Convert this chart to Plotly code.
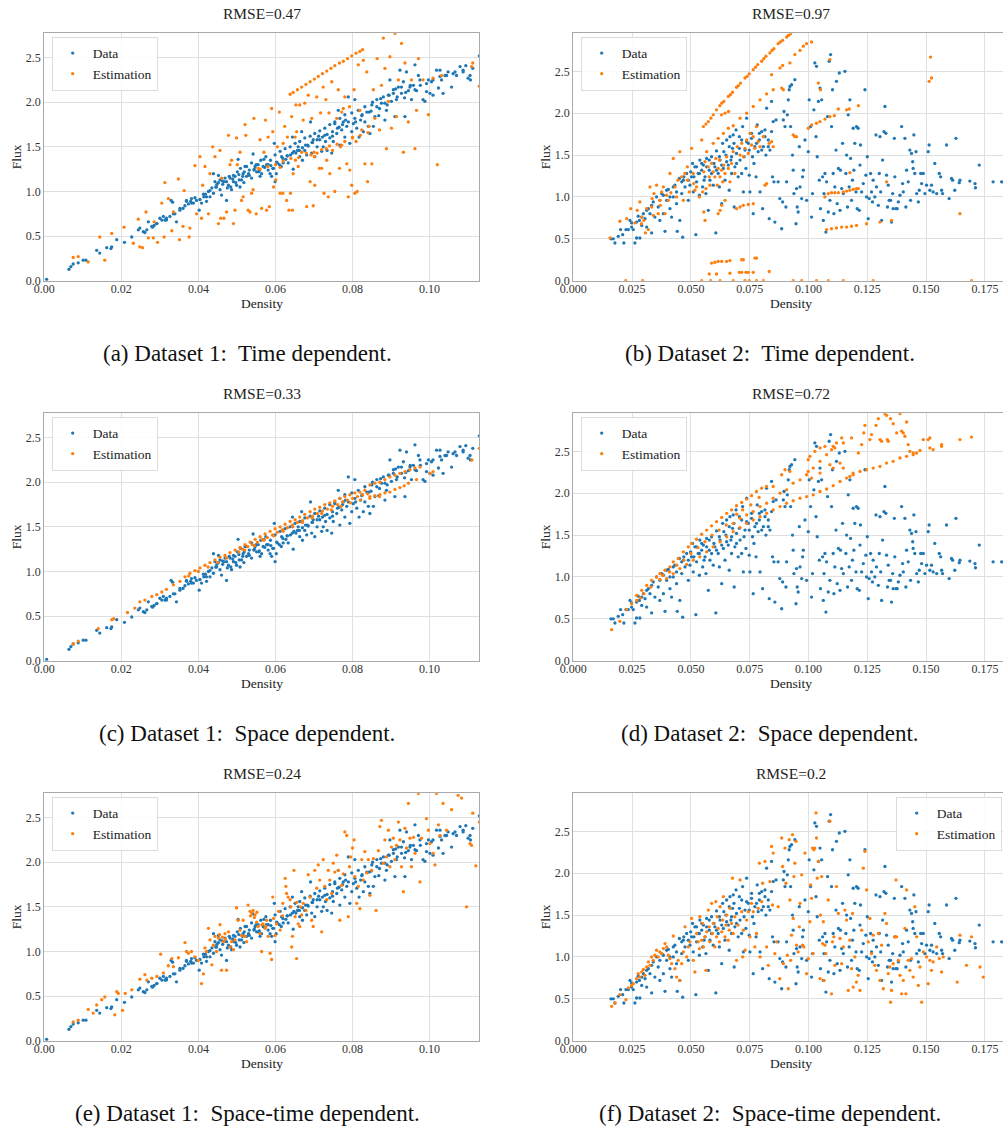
import plotly.graph_objects as go

# ---------------- values ----------------
# Dataset 1 measured (density, flux) pairs, shared by panels (a), (c), (e)
d1_data = [
    (0.0006, 0.015), (0.0064, 0.127), (0.0069, 0.157), (0.0075, 0.187), (0.0088, 0.2), (0.0101, 0.23),
    (0.0108, 0.23), (0.0136, 0.34), (0.0144, 0.31), (0.0162, 0.37), (0.0173, 0.36), (0.0175, 0.38),
    (0.0188, 0.46), (0.0208, 0.43), (0.0227, 0.49), (0.0244, 0.57), (0.0248, 0.59), (0.0257, 0.55),
    (0.0261, 0.54), (0.027, 0.66), (0.0281, 0.6), (0.0285, 0.62), (0.0292, 0.64), (0.030, 0.7),
    (0.0305, 0.68), (0.0309, 0.72), (0.0313, 0.68), (0.0317, 0.7), (0.0329, 0.9), (0.0333, 0.88),
    (0.0335, 0.75), (0.0343, 0.66), (0.0352, 0.79), (0.036, 0.81), (0.0365, 0.84), (0.0369, 0.9),
    (0.0374, 0.86), (0.038, 0.89), (0.0382, 0.92), (0.0387, 0.87), (0.0395, 0.9), (0.0402, 0.79),
    (0.0408, 0.87), (0.0414, 0.94), (0.0418, 0.97), (0.0421, 0.89), (0.0426, 1.0), (0.043, 0.94),
    (0.0435, 1.04), (0.0439, 1.2), (0.0443, 1.11), (0.0447, 1.05), (0.0448, 1.08), (0.0452, 1.18),
    (0.0456, 1.02), (0.046, 0.96), (0.0462, 1.12), (0.0466, 1.11), (0.0473, 0.9), (0.0475, 1.04),
    (0.0478, 1.07), (0.0482, 1.15), (0.0486, 1.02), (0.0489, 1.14), (0.0491, 1.11), (0.0495, 1.17),
    (0.0499, 1.07), (0.0503, 1.36), (0.0505, 1.19), (0.0508, 1.05), (0.0512, 1.13), (0.0516, 1.2),
    (0.0518, 1.1), (0.0521, 1.28), (0.0525, 1.17), (0.053, 1.2), (0.0532, 1.24), (0.0538, 1.15),
    (0.0542, 1.42), (0.0545, 1.25), (0.0547, 1.28), (0.0551, 1.22), (0.0555, 1.3), (0.0558, 1.23),
    (0.056, 1.17), (0.0564, 1.2), (0.057, 1.36), (0.0572, 1.27), (0.0577, 1.3), (0.0581, 1.24),
    (0.0586, 1.2), (0.0588, 1.29), (0.059, 1.17), (0.0595, 1.26), (0.0597, 1.54), (0.0599, 1.11),
    (0.0602, 1.2), (0.0603, 1.33), (0.061, 1.3), (0.0615, 1.28), (0.0616, 1.39), (0.062, 1.32),
    (0.0627, 1.36), (0.063, 1.4), (0.0633, 1.32), (0.0639, 1.41), (0.0644, 1.61), (0.0646, 1.25),
    (0.0648, 1.45), (0.0653, 1.43), (0.0659, 1.5), (0.0662, 1.46), (0.0663, 1.39), (0.0668, 1.67),
    (0.067, 1.35), (0.0676, 1.46), (0.0678, 1.52), (0.0681, 1.41), (0.0685, 1.51), (0.0691, 1.78),
    (0.0694, 1.43), (0.0695, 1.55), (0.0698, 1.58), (0.0702, 1.39), (0.0708, 1.5), (0.0712, 1.62),
    (0.0715, 1.58), (0.072, 1.45), (0.0724, 1.5), (0.0728, 1.63), (0.073, 1.56), (0.0734, 1.46),
    (0.0741, 1.6), (0.0746, 1.43), (0.0748, 1.62), (0.075, 1.56), (0.0754, 1.76), (0.0759, 1.65),
    (0.0763, 1.91), (0.0765, 1.72), (0.0767, 1.52), (0.0772, 1.69), (0.0776, 1.78), (0.078, 1.61),
    (0.0782, 1.8), (0.0785, 1.73), (0.0789, 2.06), (0.0793, 1.54), (0.0798, 1.67), (0.0802, 1.76),
    (0.0806, 2.03), (0.0808, 1.78), (0.0811, 1.71), (0.0817, 1.61), (0.0821, 1.8), (0.0825, 1.86),
    (0.0828, 1.67), (0.0832, 1.78), (0.0837, 1.89), (0.0841, 1.73), (0.0845, 1.65), (0.0848, 1.9),
    (0.085, 1.97), (0.0854, 1.73), (0.0858, 1.84), (0.0863, 2.03), (0.0868, 1.85), (0.087, 1.93),
    (0.0875, 1.99), (0.088, 2.06), (0.0884, 1.8), (0.0888, 1.91), (0.089, 1.97), (0.0893, 2.08),
    (0.0897, 2.25), (0.0901, 2.01), (0.0906, 2.1), (0.091, 1.84), (0.0912, 2.15), (0.0914, 2.03),
    (0.0919, 2.17), (0.0923, 2.36), (0.0927, 2.1), (0.0932, 2.23), (0.0935, 2.05), (0.0936, 1.84),
    (0.094, 2.34), (0.0945, 2.13), (0.0949, 2.17), (0.0953, 2.03), (0.0958, 2.19), (0.0962, 2.42),
    (0.0966, 2.13), (0.0971, 2.3), (0.0975, 2.25), (0.0983, 2.03), (0.0988, 2.01), (0.0992, 2.12),
    (0.0997, 2.25), (0.1001, 2.1), (0.1005, 2.23), (0.1009, 2.08), (0.1018, 2.36), (0.1023, 2.16),
    (0.1027, 2.36), (0.1031, 2.25), (0.1035, 2.1), (0.104, 2.3), (0.1048, 2.34), (0.1057, 2.17),
    (0.1061, 2.32), (0.107, 2.3), (0.1079, 2.4), (0.1087, 2.34), (0.1094, 2.41), (0.11, 2.27),
    (0.1106, 2.25), (0.1112, 2.38), (0.1129, 2.52),
    # dense core of the band
    (0.0452, 1.1), (0.0456, 1.13), (0.0463, 1.08), (0.0469, 1.15), (0.0473, 1.11), (0.048, 1.17),
    (0.0484, 1.05), (0.0491, 1.18), (0.0497, 1.1), (0.0501, 1.22), (0.0506, 1.13), (0.0509, 1.26),
    (0.0515, 1.17), (0.0519, 1.22), (0.0525, 1.28), (0.0532, 1.18), (0.0538, 1.32), (0.0544, 1.24),
    (0.055, 1.3), (0.0556, 1.22), (0.0562, 1.35), (0.0568, 1.28), (0.0575, 1.39), (0.0581, 1.3),
    (0.0587, 1.35), (0.0593, 1.26), (0.0599, 1.41), (0.0605, 1.32), (0.0612, 1.45), (0.0619, 1.37),
    (0.0625, 1.48), (0.0631, 1.4), (0.0638, 1.5), (0.0644, 1.43), (0.0651, 1.54), (0.0657, 1.46),
    (0.0663, 1.56), (0.067, 1.49), (0.0676, 1.6), (0.0683, 1.52), (0.069, 1.62), (0.0696, 1.55),
    (0.0702, 1.65), (0.0708, 1.58), (0.0715, 1.68), (0.0722, 1.61), (0.0728, 1.71), (0.0734, 1.64),
    (0.0741, 1.75), (0.0748, 1.67), (0.0754, 1.78), (0.0761, 1.71), (0.0767, 1.82), (0.0774, 1.75),
    (0.078, 1.86), (0.0789, 1.78), (0.0798, 1.88), (0.0806, 1.82), (0.0815, 1.91), (0.0824, 1.85),
    (0.0832, 1.95), (0.0843, 1.89), (0.0852, 2.0), (0.0863, 1.95), (0.0873, 2.04), (0.0884, 1.99),
    (0.0895, 2.08), (0.0906, 2.14), (0.0916, 2.06), (0.0927, 2.17), (0.0938, 2.11), (0.095, 2.19),
    (0.0962, 2.14), (0.0976, 2.19), (0.0992, 2.21), (0.1009, 2.25), (0.1027, 2.29), (0.1044, 2.3),
    (0.1066, 2.34), (0.1087, 2.36), (0.1105, 2.3),
    (0.0369, 0.89), (0.0382, 0.87), (0.0391, 0.93), (0.0404, 0.91), (0.0413, 0.97), (0.0421, 0.94),
    (0.043, 1.01), (0.0439, 0.98), (0.0445, 1.05), (0.0317, 0.68), (0.0326, 0.72), (0.0339, 0.75),
    (0.0352, 0.81), (0.0292, 0.64), (0.0279, 0.61), (0.0266, 0.57),
]

# Dataset 1, time-dependent estimate (panel a)
d1_est_time = [
    (0.0075, 0.26), (0.0088, 0.27), (0.0114, 0.21), (0.0144, 0.49), (0.0157, 0.23), (0.0175, 0.53),
    (0.0207, 0.6), (0.0231, 0.42), (0.0244, 0.69), (0.0248, 0.38), (0.0255, 0.37), (0.0264, 0.77),
    (0.027, 0.48), (0.0283, 0.48), (0.0285, 0.66), (0.0294, 0.43), (0.0305, 0.87), (0.0313, 1.1),
    (0.0311, 0.49), (0.0322, 0.92), (0.0331, 0.56), (0.0335, 0.77), (0.0348, 1.14), (0.0351, 0.46),
    (0.036, 0.61), (0.0363, 1.01), (0.0376, 0.49), (0.0378, 0.59), (0.0391, 1.29), (0.0395, 0.75),
    (0.0404, 1.39), (0.0408, 0.7), (0.0411, 1.07), (0.0417, 1.28), (0.0426, 0.75), (0.043, 1.2),
    (0.0437, 1.5), (0.0443, 1.39), (0.0452, 0.64), (0.0456, 1.46), (0.0458, 0.7), (0.046, 1.15),
    (0.0466, 0.7), (0.0473, 0.77), (0.0478, 1.63), (0.0482, 1.3), (0.0486, 1.35), (0.0491, 0.64),
    (0.0495, 0.79), (0.0499, 1.6), (0.0501, 1.3), (0.0508, 1.44), (0.0512, 0.9), (0.0516, 0.94),
    (0.0521, 1.75), (0.0523, 1.63), (0.0529, 0.79), (0.0534, 0.77), (0.0538, 0.98), (0.0542, 1.02),
    (0.0544, 1.82), (0.055, 0.75), (0.0555, 1.26), (0.056, 1.58), (0.0564, 0.81), (0.057, 1.44),
    (0.0574, 1.8), (0.0577, 0.79), (0.0581, 1.61), (0.0584, 0.83), (0.059, 1.93), (0.0593, 1.67),
    (0.0595, 1.05), (0.0601, 1.13), (0.0605, 1.5), (0.061, 1.89), (0.0612, 0.98), (0.0619, 0.98),
    (0.062, 1.54), (0.0624, 1.73), (0.0629, 0.9), (0.0631, 1.61), (0.0635, 0.79), (0.0639, 0.98),
    (0.0642, 1.84), (0.0644, 0.79), (0.0646, 1.2), (0.0651, 1.61), (0.0653, 1.97), (0.0655, 1.67),
    (0.0659, 1.28), (0.0663, 1.97), (0.0668, 1.44), (0.0672, 1.8), (0.0676, 1.99), (0.0681, 0.83),
    (0.0685, 2.08), (0.069, 1.11), (0.0694, 1.82), (0.0698, 0.84), (0.0701, 1.39), (0.0702, 1.07),
    (0.0707, 2.06), (0.0708, 1.43), (0.0714, 1.26), (0.0717, 1.88), (0.072, 1.26), (0.0724, 2.17),
    (0.0726, 0.98), (0.0731, 2.03), (0.0733, 1.35), (0.0737, 0.94), (0.0739, 1.88), (0.0741, 1.2),
    (0.0746, 2.23), (0.0748, 1.46), (0.0754, 1.0), (0.0759, 1.82), (0.0763, 2.14), (0.0766, 1.26),
    (0.0769, 1.5), (0.0772, 1.89), (0.0776, 1.93), (0.078, 2.06), (0.0785, 1.31), (0.0789, 0.94),
    (0.0792, 1.95), (0.0793, 1.24), (0.0798, 1.07), (0.08, 1.61), (0.0804, 2.14), (0.0806, 0.98),
    (0.0809, 1.56), (0.0812, 1.0), (0.0815, 2.42), (0.0819, 1.91), (0.0824, 1.69), (0.0828, 2.47),
    (0.0832, 1.31), (0.0837, 2.34), (0.0839, 1.11), (0.0843, 1.73), (0.085, 1.31), (0.0854, 2.14),
    (0.0858, 1.82), (0.0864, 2.49), (0.087, 1.69), (0.0875, 2.19), (0.088, 2.72), (0.0884, 2.38),
    (0.0888, 1.48), (0.0893, 2.01), (0.0897, 2.51), (0.0901, 1.71), (0.091, 2.77), (0.0914, 1.84),
    (0.0919, 2.25), (0.0927, 2.66), (0.0932, 1.44), (0.0936, 2.44), (0.0945, 1.78), (0.0953, 2.25),
    (0.0962, 1.48), (0.0966, 1.91), (0.0971, 2.49), (0.0983, 2.25), (0.0997, 1.86), (0.1009, 2.27),
    (0.102, 1.3), (0.1031, 2.3), (0.1109, 2.4), (0.1112, 2.44), (0.1129, 2.18),
    # streak of estimates along the upper edge
    (0.0638, 2.09), (0.0646, 2.11), (0.0657, 2.14), (0.0668, 2.17), (0.0679, 2.2), (0.069, 2.23),
    (0.0701, 2.26), (0.0711, 2.29), (0.0722, 2.32), (0.0733, 2.35), (0.0744, 2.38), (0.0754, 2.41),
    (0.0766, 2.44), (0.0776, 2.46), (0.0787, 2.49), (0.0798, 2.52), (0.0809, 2.55), (0.0819, 2.57),
    (0.0826, 2.59),
    # band of estimates hugging the measured trend
    (0.056, 1.25), (0.058, 1.28), (0.06, 1.3), (0.062, 1.34), (0.064, 1.37), (0.066, 1.38),
    (0.068, 1.43), (0.07, 1.44), (0.072, 1.47), (0.074, 1.51), (0.076, 1.53), (0.078, 1.56),
    (0.08, 1.6), (0.082, 1.63), (0.084, 1.66), (0.0612, 1.27), (0.0652, 1.35), (0.0692, 1.41),
    (0.0732, 1.48), (0.0772, 1.52),
]

# Dataset 1, space-dependent estimate (panel c)
d1_est_space = [
    (0.0075, 0.19), (0.0088, 0.22), (0.014, 0.36), (0.0175, 0.46), (0.018, 0.47), (0.0216, 0.54),
    (0.0235, 0.59), (0.0248, 0.66), (0.0261, 0.68), (0.0279, 0.72), (0.0292, 0.74), (0.0305, 0.77),
    (0.0317, 0.8), (0.0335, 0.85), (0.0352, 0.89), (0.0365, 0.94), (0.0378, 0.98), (0.0391, 1.01),
    (0.0404, 1.04), (0.0417, 1.07), (0.043, 1.1), (0.0443, 1.13), (0.0456, 1.16), (0.0469, 1.18),
    (0.0482, 1.21), (0.0495, 1.24), (0.0508, 1.27), (0.0521, 1.3), (0.0534, 1.33), (0.0547, 1.36),
    (0.056, 1.39), (0.0573, 1.42), (0.0586, 1.45), (0.0599, 1.48), (0.0612, 1.5), (0.0625, 1.53),
    (0.0638, 1.56), (0.0651, 1.58), (0.0663, 1.61), (0.0676, 1.64), (0.069, 1.67), (0.0702, 1.7),
    (0.0715, 1.72), (0.0728, 1.75), (0.0741, 1.77), (0.0754, 1.79), (0.0767, 1.82), (0.078, 1.84),
    (0.0793, 1.86), (0.0806, 1.88), (0.0819, 1.89), (0.0832, 1.91),
    (0.0505, 1.22), (0.0515, 1.25), (0.0528, 1.28), (0.054, 1.3), (0.0553, 1.33), (0.0566, 1.36),
    (0.0579, 1.38), (0.0592, 1.41), (0.0605, 1.44), (0.0618, 1.47), (0.0631, 1.49), (0.0644, 1.52),
    (0.0657, 1.55), (0.067, 1.57), (0.0683, 1.6), (0.0696, 1.62), (0.0709, 1.65), (0.0722, 1.68),
    (0.0735, 1.7), (0.0748, 1.73), (0.0761, 1.75), (0.0774, 1.78), (0.0787, 1.8), (0.08, 1.82),
    (0.0813, 1.84), (0.0826, 1.86), (0.0839, 1.87),
    (0.0375, 0.95), (0.04, 1.0), (0.0425, 1.05), (0.045, 1.1), (0.0473, 1.15), (0.052, 1.24),
    (0.0545, 1.29), (0.057, 1.35), (0.0595, 1.4), (0.062, 1.45), (0.0645, 1.5), (0.067, 1.55),
    (0.0695, 1.6), (0.072, 1.65), (0.0745, 1.69), (0.077, 1.73), (0.0795, 1.77), (0.082, 1.8),
    (0.0845, 1.82), (0.087, 1.84),
    (0.0845, 1.97), (0.0871, 2.0), (0.0897, 2.06), (0.0923, 2.1), (0.0949, 2.14), (0.0975, 2.17),
    (0.0858, 1.99), (0.0884, 2.03), (0.091, 2.08), (0.0936, 2.12), (0.0962, 2.16),
    (0.0845, 1.84), (0.0871, 1.86), (0.0897, 1.89), (0.0923, 1.94), (0.0945, 1.99), (0.0966, 2.03),
    (0.0858, 1.85), (0.0884, 1.88), (0.091, 1.92), (0.0934, 1.96),
    (0.1001, 2.1), (0.1009, 2.12), (0.111, 2.25), (0.1129, 2.38),
]

# Dataset 1, space-time estimate (panel e)
d1_est_spacetime = [
    (0.0075, 0.21), (0.0088, 0.23), (0.0114, 0.35), (0.0127, 0.31), (0.0136, 0.4), (0.0149, 0.46),
    (0.0157, 0.49), (0.0183, 0.29), (0.0188, 0.55), (0.0192, 0.53), (0.0203, 0.34), (0.021, 0.53),
    (0.0227, 0.57), (0.0248, 0.69), (0.0261, 0.74), (0.0266, 0.68), (0.0279, 0.7), (0.0292, 0.72),
    (0.0302, 0.97), (0.0309, 0.76), (0.0322, 0.84), (0.0331, 0.92), (0.0335, 0.83), (0.0348, 0.93),
    (0.0365, 1.1), (0.0369, 1.0), (0.0374, 0.98), (0.0382, 1.0), (0.0391, 0.94), (0.04, 0.9),
    (0.0408, 0.64), (0.0413, 0.75), (0.0417, 1.04), (0.0421, 1.0), (0.0426, 1.26), (0.043, 1.13),
    (0.0435, 0.85), (0.0439, 1.07), (0.0443, 1.17), (0.0447, 1.0), (0.0452, 1.15), (0.0456, 1.3),
    (0.046, 0.79), (0.0465, 1.11), (0.0469, 1.2), (0.0473, 0.79), (0.0478, 1.22), (0.0482, 1.05),
    (0.0486, 1.11), (0.0491, 1.02), (0.0495, 1.13), (0.0499, 1.49), (0.0503, 1.35), (0.0508, 1.24),
    (0.0512, 1.18), (0.0516, 1.35), (0.0521, 1.17), (0.0525, 1.11), (0.0529, 1.52), (0.0534, 1.45),
    (0.0538, 1.43), (0.0542, 1.46), (0.0547, 1.41), (0.0551, 1.33), (0.0555, 1.28), (0.056, 1.2),
    (0.0564, 1.0), (0.0568, 1.31), (0.0573, 1.26), (0.0577, 1.35), (0.0581, 1.17), (0.0586, 0.98),
    (0.059, 0.91), (0.0593, 1.61), (0.0595, 1.37), (0.0599, 1.18), (0.0603, 1.31), (0.0608, 1.45),
    (0.0612, 1.24), (0.0619, 1.54), (0.0625, 1.82), (0.0627, 1.73), (0.0629, 1.65), (0.0633, 1.61),
    (0.0638, 1.58), (0.0642, 1.05), (0.0644, 1.17), (0.0648, 1.91), (0.0651, 1.39), (0.0655, 0.92),
    (0.0659, 1.31), (0.0663, 1.28), (0.0668, 1.41), (0.0672, 1.54), (0.0679, 1.46), (0.0685, 1.86),
    (0.069, 1.61), (0.0694, 1.35), (0.0698, 1.28), (0.0702, 1.91), (0.0707, 1.71), (0.0711, 1.97),
    (0.0715, 1.8), (0.072, 1.22), (0.0724, 2.03), (0.0728, 1.73), (0.0733, 1.58), (0.0737, 1.91),
    (0.0741, 1.8), (0.0746, 1.65), (0.075, 1.99), (0.0754, 1.89), (0.0759, 2.08), (0.0763, 1.91),
    (0.0767, 1.35), (0.0772, 1.74), (0.0776, 1.87), (0.078, 2.34), (0.0785, 2.3), (0.0789, 1.39),
    (0.0792, 1.95), (0.0795, 2.06), (0.08, 2.16), (0.0804, 2.25), (0.0806, 1.84), (0.0811, 1.54),
    (0.0815, 1.73), (0.0819, 1.48), (0.0824, 2.03), (0.0828, 1.8), (0.0832, 2.12), (0.0837, 1.88),
    (0.0841, 2.03), (0.0845, 1.63), (0.085, 1.91), (0.0854, 2.04), (0.0861, 1.46), (0.0867, 2.13),
    (0.0871, 2.4), (0.0875, 2.47), (0.088, 1.99), (0.0884, 2.25), (0.0888, 2.06), (0.0893, 2.36),
    (0.0897, 1.95), (0.0901, 2.17), (0.0906, 2.27), (0.091, 2.03), (0.0914, 2.19), (0.0919, 2.45),
    (0.0923, 2.25), (0.0927, 1.95), (0.0932, 1.67), (0.0936, 2.38), (0.094, 2.16), (0.0945, 2.66),
    (0.0949, 2.27), (0.0953, 1.95), (0.0958, 2.28), (0.0962, 2.1), (0.0971, 2.77), (0.0975, 1.78),
    (0.0979, 2.27), (0.0992, 2.49), (0.0997, 2.36), (0.1001, 2.21), (0.1009, 2.1), (0.1014, 1.97),
    (0.1018, 2.77), (0.1023, 2.42), (0.1027, 2.3), (0.1035, 2.66), (0.1044, 2.36), (0.1057, 2.59),
    (0.1074, 2.75), (0.1083, 2.72), (0.1096, 1.5), (0.1105, 2.21), (0.1109, 2.19), (0.1112, 2.55),
    (0.112, 1.96), (0.1129, 2.45),
    (0.0455, 1.19), (0.0462, 1.16), (0.047, 1.14), (0.0535, 1.4), (0.0545, 1.38), (0.0552, 1.44),
    (0.0565, 1.3), (0.0575, 1.28), (0.0618, 1.4), (0.064, 1.5), (0.0655, 1.55), (0.0665, 1.5),
]

# Dataset 2 measured (density, flux) pairs, shared by panels (b), (d), (f)
d2_data = [
    (0.016, 0.5), (0.017, 0.5), (0.0177, 0.45), (0.0191, 0.53), (0.0201, 0.61), (0.021, 0.55),
    (0.0215, 0.45), (0.0224, 0.61), (0.0234, 0.61), (0.0241, 0.72), (0.0248, 0.69), (0.0255, 0.61),
    (0.0262, 0.45), (0.0269, 0.51), (0.0276, 0.77), (0.0281, 0.72), (0.0283, 0.51), (0.0291, 0.66),
    (0.0298, 0.8), (0.0305, 0.74), (0.0312, 0.64), (0.0319, 0.86), (0.0326, 0.8), (0.0333, 0.57),
    (0.034, 0.94), (0.0347, 0.76), (0.0354, 1.0), (0.0361, 0.88), (0.0368, 0.72), (0.0376, 1.04),
    (0.0383, 0.8), (0.039, 0.59), (0.0397, 0.96), (0.0404, 1.09), (0.0411, 0.86), (0.0418, 0.76),
    (0.0425, 1.0), (0.0432, 1.14), (0.0439, 0.92), (0.0442, 0.59), (0.0451, 1.22), (0.0453, 0.72),
    (0.0461, 1.04), (0.0465, 0.52), (0.0468, 1.2), (0.0475, 1.12), (0.0482, 1.28), (0.0489, 0.96),
    (0.0496, 1.14), (0.0503, 1.24), (0.0507, 1.4), (0.051, 1.06), (0.0517, 1.36), (0.0521, 0.55),
    (0.0524, 1.18), (0.0531, 1.28), (0.0536, 1.02), (0.0538, 1.44), (0.0546, 1.32), (0.055, 1.12),
    (0.0553, 1.38), (0.056, 1.24), (0.0564, 1.04), (0.0567, 1.46), (0.0574, 0.84), (0.0578, 1.32),
    (0.0581, 1.2), (0.0588, 1.48), (0.0595, 1.14), (0.0602, 1.36), (0.0606, 0.57), (0.0609, 1.55),
    (0.0616, 1.28), (0.0621, 1.12), (0.0624, 1.44), (0.0631, 0.92), (0.0635, 1.64), (0.0638, 1.34),
    (0.0645, 1.2), (0.0649, 1.5), (0.0652, 1.68), (0.0659, 1.38), (0.0663, 1.08), (0.0666, 1.72),
    (0.067, 1.44), (0.0673, 1.28), (0.0677, 1.58), (0.068, 1.74), (0.0684, 0.88), (0.0687, 1.36),
    (0.0692, 1.8), (0.0694, 1.52), (0.0701, 1.24), (0.0706, 1.72), (0.0709, 1.44), (0.0716, 1.28),
    (0.072, 1.84), (0.0723, 1.06), (0.073, 1.56), (0.0734, 1.34), (0.0737, 1.94), (0.0744, 1.64),
    (0.0748, 1.26), (0.0751, 1.06), (0.0758, 1.76), (0.0762, 1.48), (0.0765, 0.8), (0.0772, 1.6),
    (0.0777, 1.24), (0.0782, 1.86), (0.0786, 1.54), (0.0791, 1.68), (0.0794, 1.06), (0.0801, 1.78),
    (0.0805, 0.86), (0.0808, 1.6), (0.0815, 1.8), (0.0819, 1.5), (0.0822, 2.06), (0.0829, 1.68),
    (0.0833, 0.74), (0.0836, 1.56), (0.0843, 2.14), (0.0847, 1.24), (0.085, 1.9), (0.0853, 1.18),
    (0.0857, 0.7), (0.0862, 1.92), (0.0871, 1.18), (0.0878, 0.98), (0.0886, 0.62), (0.089, 0.94),
    (0.0893, 1.92), (0.0896, 2.02), (0.09, 1.84), (0.0904, 0.88), (0.0907, 1.18), (0.091, 1.98),
    (0.0914, 2.16), (0.0918, 2.28), (0.0921, 2.32), (0.0924, 1.84), (0.0928, 2.34), (0.0932, 1.5),
    (0.0935, 1.32), (0.0938, 1.04), (0.0942, 2.4), (0.0947, 0.68), (0.0949, 1.1), (0.0952, 0.88),
    (0.0956, 0.82), (0.0961, 1.6), (0.0964, 1.12), (0.0971, 0.98), (0.0975, 1.24), (0.0978, 1.32),
    (0.0985, 1.68), (0.0992, 0.96), (0.0999, 1.54), (0.1003, 2.16), (0.1009, 1.84), (0.1013, 0.76),
    (0.1017, 1.04), (0.1023, 2.04), (0.1027, 2.6), (0.1032, 1.72), (0.1034, 2.56), (0.1037, 1.48),
    (0.1042, 2.14), (0.1046, 1.2), (0.1049, 2.3), (0.1051, 0.86), (0.1056, 2.16), (0.106, 1.24),
    (0.1063, 0.72), (0.1066, 1.04), (0.107, 1.28), (0.1074, 0.58), (0.1077, 1.18), (0.1081, 1.96),
    (0.1084, 0.82), (0.1088, 2.62), (0.1091, 0.96), (0.1094, 2.7), (0.1098, 1.84), (0.1102, 2.28),
    (0.1105, 1.28), (0.1108, 0.8), (0.1112, 1.12), (0.1117, 1.56), (0.1119, 2.38), (0.1122, 0.92),
    (0.1127, 1.34), (0.1131, 2.48), (0.1134, 0.84), (0.1136, 1.32), (0.1141, 1.1), (0.1145, 1.64),
    (0.1148, 1.04), (0.1155, 2.5), (0.1159, 1.28), (0.1162, 1.5), (0.1166, 0.88), (0.1169, 1.98),
    (0.1173, 1.12), (0.1176, 2.16), (0.1179, 1.46), (0.1183, 0.96), (0.1187, 1.2), (0.119, 1.82),
    (0.1193, 1.32), (0.1197, 1.64), (0.1202, 1.06), (0.1204, 1.84), (0.1207, 0.86), (0.1211, 1.82),
    (0.1216, 0.84), (0.1219, 1.38), (0.1221, 1.62), (0.1226, 1.06), (0.1233, 1.16), (0.124, 2.28),
    (0.1244, 1.26), (0.1247, 1.0), (0.125, 1.48), (0.1254, 0.74), (0.1258, 0.98), (0.1264, 1.28),
    (0.1268, 1.06), (0.1272, 0.94), (0.1275, 1.2), (0.1282, 1.0), (0.1287, 1.74), (0.1289, 1.12),
    (0.1297, 0.9), (0.1301, 1.28), (0.1304, 1.72), (0.1307, 1.06), (0.1311, 0.72), (0.1315, 1.44),
    (0.1321, 1.78), (0.1325, 2.08), (0.1329, 1.76), (0.1332, 1.26), (0.1336, 0.88), (0.1339, 1.14),
    (0.1343, 0.96), (0.1349, 0.96), (0.1353, 0.7), (0.1358, 1.04), (0.136, 0.86), (0.1365, 1.7),
    (0.1367, 1.24), (0.1372, 0.86), (0.1377, 0.86), (0.1382, 0.94), (0.1389, 1.02), (0.1396, 1.84),
    (0.14, 1.16), (0.1403, 1.06), (0.141, 1.7), (0.1414, 0.88), (0.1417, 1.32), (0.1424, 1.18),
    (0.1431, 1.56), (0.1434, 0.96), (0.1438, 1.52), (0.1443, 1.42), (0.1445, 1.34), (0.1448, 1.74),
    (0.1452, 1.28), (0.1457, 1.54), (0.146, 1.04), (0.1467, 0.94), (0.1471, 1.08), (0.1477, 1.28),
    (0.1481, 1.16), (0.1488, 1.28), (0.1495, 1.04), (0.1502, 1.14), (0.1509, 1.54), (0.1513, 1.62),
    (0.1516, 1.08), (0.1523, 1.14), (0.153, 1.06), (0.1537, 1.4), (0.1545, 1.04), (0.1556, 1.28),
    (0.1562, 1.24), (0.1566, 1.08), (0.157, 1.04), (0.1587, 1.62), (0.1598, 0.98), (0.1608, 1.22),
    (0.1613, 1.2), (0.1622, 1.08), (0.1627, 1.7), (0.1641, 1.17), (0.1644, 1.2), (0.1686, 1.19),
    (0.1708, 1.16), (0.171, 1.11), (0.1726, 1.38), (0.1785, 1.18), (0.1821, 1.18),
    # dense part of the rising branch
    (0.0461, 1.18), (0.047, 1.24), (0.0489, 1.2), (0.0499, 1.3), (0.0513, 1.24), (0.0524, 1.36),
    (0.0536, 1.28), (0.0546, 1.4), (0.0556, 1.2), (0.0567, 1.36), (0.0578, 1.44), (0.0588, 1.28),
    (0.0598, 1.4), (0.0609, 1.32), (0.0621, 1.48), (0.0631, 1.38), (0.064, 1.54), (0.0652, 1.42),
    (0.0663, 1.6), (0.0673, 1.48), (0.0683, 1.64), (0.0694, 1.4), (0.0706, 1.58), (0.0716, 1.68),
    (0.0726, 1.48), (0.0737, 1.66), (0.0748, 1.56), (0.0758, 1.7), (0.0768, 1.4), (0.0779, 1.64),
    (0.0791, 1.76), (0.0801, 1.56), (0.0815, 1.72), (0.0829, 1.6), (0.0843, 1.78), (0.0368, 0.96),
    (0.0383, 1.02), (0.0397, 1.08), (0.0411, 1.0), (0.0425, 1.12), (0.0439, 1.06), (0.0333, 0.9),
    (0.0312, 0.84), (0.0291, 0.76), (0.0269, 0.7), (0.0248, 0.64),
]

# Dataset 2, time-dependent estimate (panel b)
d2_est_time = [
    # main cluster
    (0.0156, 0.51), (0.0198, 0.71), (0.0227, 0.74), (0.0244, 0.86), (0.0262, 0.69), (0.0272, 0.84),
    (0.0283, 0.94), (0.0291, 0.76), (0.03, 0.72), (0.0307, 0.57), (0.0312, 0.86), (0.0319, 0.61),
    (0.0326, 1.12), (0.0333, 0.88), (0.034, 0.78), (0.0343, 1.04), (0.0354, 1.14), (0.0361, 0.8),
    (0.0368, 0.96), (0.0376, 1.06), (0.0383, 1.12), (0.039, 0.8), (0.0397, 1.02), (0.0404, 0.96),
    (0.0411, 1.28), (0.0425, 1.46), (0.0432, 1.12), (0.0439, 1.0), (0.0453, 1.54), (0.0461, 1.24),
    (0.0468, 0.96), (0.0475, 1.28), (0.0485, 1.36), (0.0493, 1.06), (0.0503, 1.58), (0.051, 1.28),
    (0.0517, 1.08), (0.0524, 1.12), (0.0536, 1.0), (0.0546, 1.68), (0.055, 1.06), (0.0555, 1.3),
    (0.056, 1.42), (0.0564, 1.1), (0.0567, 1.54), (0.0574, 1.36), (0.0578, 1.24), (0.0581, 1.14),
    (0.0588, 1.4), (0.0595, 1.3), (0.0602, 1.24), (0.0606, 1.46), (0.0612, 1.14), (0.0616, 1.34),
    (0.0621, 1.44), (0.0624, 1.24), (0.0631, 1.32), (0.0635, 1.18), (0.064, 1.38), (0.0645, 1.28),
    (0.0652, 1.48), (0.0659, 1.34), (0.0666, 1.18), (0.0673, 1.4), (0.068, 1.54), (0.0687, 1.28),
    (0.0697, 1.6), (0.0709, 1.5), (0.0716, 1.64), (0.0723, 1.48), (0.073, 1.58), (0.0737, 1.68),
    (0.0744, 1.52), (0.0751, 1.76), (0.0758, 1.62), (0.0765, 1.72), (0.0772, 1.58), (0.0779, 1.84),
    (0.0786, 1.66), (0.0794, 1.6), (0.0808, 1.72), (0.0815, 1.14), (0.0822, 1.16), (0.0833, 1.64),
    (0.0843, 1.66), (0.085, 1.6), (0.0935, 1.74), (0.0942, 1.72), (0.0949, 1.72), (0.0616, 0.8),
    (0.0624, 0.84), (0.0631, 0.9), (0.0645, 0.96), (0.0555, 0.82), (0.056, 0.72), (0.029, 0.68),
    (0.0335, 0.98), (0.037, 0.9), (0.0415, 1.05), (0.0445, 1.2), (0.0485, 1.2), (0.0512, 1.16),
    # steep upper streak
    (0.0553, 1.84), (0.0564, 1.87), (0.0574, 1.9), (0.0585, 1.94), (0.0595, 1.98), (0.0609, 2.04),
    (0.0623, 2.09), (0.0631, 2.12), (0.064, 2.14), (0.0659, 2.2), (0.0668, 2.22), (0.0677, 2.25),
    (0.0694, 2.31), (0.0702, 2.33), (0.0711, 2.36), (0.073, 2.42), (0.0739, 2.44), (0.0748, 2.47),
    (0.0765, 2.52), (0.0775, 2.55), (0.0784, 2.58), (0.0801, 2.62), (0.081, 2.65), (0.0819, 2.68),
    (0.0836, 2.72), (0.0845, 2.75), (0.0853, 2.77), (0.0871, 2.83), (0.088, 2.85), (0.089, 2.87),
    (0.0907, 2.91), (0.0915, 2.93), (0.0924, 2.95),
    # second streak
    (0.0843, 2.46), (0.0879, 2.54), (0.089, 2.57), (0.0921, 2.6), (0.0942, 2.7), (0.0964, 2.75),
    (0.0978, 2.8), (0.0992, 2.83), (0.1013, 2.85),
    # third streak
    (0.0595, 1.64), (0.0616, 1.7), (0.0638, 1.76), (0.0659, 1.82), (0.068, 1.85), (0.0709, 1.94),
    (0.0737, 2.0), (0.0765, 2.08), (0.0794, 2.16), (0.0822, 2.23), (0.085, 2.28), (0.0886, 2.3),
    (0.0893, 2.28), (0.063, 1.98), (0.0645, 2.0), (0.066, 2.02),
    # lower-right rows
    (0.107, 1.0), (0.1084, 1.04), (0.1098, 1.05), (0.1112, 1.05), (0.1127, 1.05), (0.1148, 1.06),
    (0.1162, 1.07), (0.1176, 1.08), (0.119, 1.09), (0.1204, 1.1), (0.1212, 1.1),
    (0.1077, 0.61), (0.1098, 0.62), (0.1119, 0.63), (0.1141, 0.64), (0.1162, 0.64), (0.1183, 0.65),
    (0.1204, 0.66), (0.1247, 0.68), (0.1304, 0.7), (0.1353, 0.72),
    (0.0999, 1.82), (0.1013, 1.86), (0.1034, 1.88), (0.1049, 1.9), (0.107, 1.93), (0.1091, 1.96),
    (0.111, 1.97), (0.1127, 2.05), (0.1162, 2.04), (0.1173, 2.05), (0.1212, 2.09),
    (0.0694, 0.86), (0.0709, 0.88), (0.0723, 0.9), (0.0744, 0.91), (0.0765, 0.92),
    # near-zero rows
    (0.0588, 0.21), (0.0602, 0.22), (0.0616, 0.23), (0.0631, 0.23), (0.0652, 0.23), (0.0666, 0.24),
    (0.0716, 0.25), (0.0723, 0.25), (0.0772, 0.27), (0.0779, 0.27),
    (0.0578, 0.08), (0.0609, 0.08), (0.0666, 0.09), (0.0706, 0.1), (0.0716, 0.1), (0.0734, 0.1),
    (0.0744, 0.1), (0.0765, 0.1), (0.0833, 0.11),
    (0.0223, 0.0), (0.0295, 0.0), (0.0546, 0.0), (0.0584, 0.0), (0.0624, 0.0), (0.068, 0.0),
    (0.073, 0.0), (0.0748, 0.0), (0.0779, 0.0), (0.0808, 0.0), (0.0935, 0.0), (0.0971, 0.0),
    (0.1034, 0.0), (0.1084, 0.0), (0.1148, 0.0), (0.1275, 0.0), (0.1693, 0.0),
    # isolated
    (0.1519, 2.67), (0.1513, 2.38), (0.1523, 2.42), (0.1644, 0.8), (0.1332, 1.18), (0.1176, 1.29),
    (0.1042, 2.36), (0.1051, 2.28), (0.1091, 2.64),
]

# Dataset 2, space-dependent estimate (panel d)
d2_est_space = [
    (0.0163, 0.37), (0.0198, 0.47), (0.0227, 0.61), (0.0248, 0.68), (0.0269, 0.78), (0.0291, 0.84),
    (0.0312, 0.9), (0.0333, 0.96), (0.0354, 1.0), (0.0368, 1.04), (0.039, 1.08), (0.0411, 1.12),
    (0.0425, 1.18), (0.0446, 1.22), (0.0468, 1.3), (0.0489, 1.36), (0.0503, 1.4), (0.0524, 1.45),
    (0.0546, 1.51), (0.0567, 1.56), (0.0588, 1.61), (0.0609, 1.66), (0.0631, 1.71), (0.0652, 1.76),
    (0.0673, 1.8), (0.0694, 1.85), (0.0716, 1.89), (0.0737, 1.93), (0.0758, 1.97), (0.0779, 2.02),
    (0.0801, 2.06), (0.0822, 2.08),
    (0.0368, 0.97), (0.0397, 0.98), (0.0425, 1.04), (0.0453, 1.1), (0.0482, 1.15), (0.051, 1.2),
    (0.0538, 1.24), (0.0567, 1.3), (0.0595, 1.36), (0.0624, 1.42), (0.0652, 1.48), (0.068, 1.54),
    (0.0709, 1.59), (0.0737, 1.64), (0.0765, 1.68), (0.0794, 1.72), (0.0822, 1.76), (0.085, 1.8),
    (0.0879, 1.84), (0.0907, 1.88), (0.0935, 1.91), (0.0964, 1.94), (0.0992, 1.96), (0.102, 1.98),
    (0.1049, 2.02), (0.1077, 2.05), (0.1105, 2.09), (0.1134, 2.14), (0.1162, 2.18), (0.119, 2.22),
    (0.1219, 2.26), (0.1247, 2.28), (0.1275, 2.3), (0.1304, 2.32), (0.1332, 2.36), (0.136, 2.38),
    (0.1389, 2.42), (0.1417, 2.44), (0.1445, 2.48), (0.1474, 2.51), (0.1516, 2.54), (0.1566, 2.56),
    (0.068, 1.64), (0.0709, 1.7), (0.0737, 1.74), (0.0765, 1.78), (0.0794, 1.84), (0.0822, 1.88),
    (0.085, 1.94), (0.0879, 2.0), (0.0907, 2.04), (0.0935, 2.12), (0.0964, 2.16), (0.0992, 2.22),
    (0.102, 2.3), (0.1049, 2.38), (0.1077, 2.46), (0.1105, 2.56), (0.1119, 2.6),
    (0.038, 1.02), (0.041, 1.06), (0.044, 1.14), (0.047, 1.2), (0.05, 1.28), (0.053, 1.35),
    (0.056, 1.42), (0.059, 1.5), (0.062, 1.56), (0.065, 1.62), (0.0695, 1.75), (0.072, 1.8),
    (0.0755, 1.86), (0.079, 1.95), (0.027, 0.72), (0.03, 0.8), (0.033, 0.88), (0.0285, 0.75),
    (0.085, 2.08), (0.0886, 2.22), (0.09, 2.28), (0.0921, 2.26), (0.0999, 2.4), (0.1006, 2.44),
    (0.1027, 2.5), (0.1049, 2.54), (0.107, 2.56), (0.1098, 2.52), (0.1112, 2.54), (0.1141, 2.66),
    (0.1148, 2.6), (0.1183, 2.66), (0.1212, 2.48), (0.1226, 2.58), (0.1235, 2.72), (0.124, 2.81),
    (0.1261, 2.64), (0.1268, 2.7), (0.1287, 2.81), (0.1297, 2.89), (0.1304, 2.64), (0.1311, 2.62),
    (0.1325, 2.95), (0.1332, 2.93), (0.1335, 2.64), (0.1339, 2.62), (0.1349, 2.89), (0.136, 2.83),
    (0.1375, 2.72), (0.1389, 2.95), (0.1396, 2.74), (0.1403, 2.72), (0.141, 2.68), (0.1417, 2.85),
    (0.1424, 2.58), (0.1431, 2.5), (0.1445, 2.46), (0.146, 2.48), (0.1488, 2.64), (0.1509, 2.64),
    (0.1516, 2.66), (0.153, 2.52), (0.1566, 2.58), (0.1644, 2.64), (0.1693, 2.67),
    (0.0999, 2.26), (0.1013, 2.18), (0.1049, 2.24), (0.1091, 2.34), (0.1105, 2.3), (0.1134, 2.36),
    (0.1148, 2.3), (0.1176, 2.2), (0.119, 2.24),
]

# Dataset 2, space-time estimate (panel f)
d2_est_spacetime = [
    (0.0163, 0.41), (0.0177, 0.45), (0.0198, 0.55), (0.0224, 0.49), (0.0234, 0.63), (0.0248, 0.66),
    (0.0255, 0.68), (0.0269, 0.74), (0.0276, 0.8), (0.0283, 0.76), (0.0291, 0.82), (0.0298, 0.85),
    (0.0305, 0.78), (0.0312, 0.88), (0.0319, 0.94), (0.0326, 0.9), (0.0333, 1.0), (0.034, 0.96),
    (0.0347, 1.02), (0.0354, 1.08), (0.0361, 1.0), (0.0368, 1.06), (0.0376, 1.04), (0.0383, 1.1),
    (0.039, 1.16), (0.0397, 1.12), (0.0404, 1.02), (0.0411, 0.98), (0.0418, 0.92), (0.0425, 1.25),
    (0.0432, 0.86), (0.0439, 0.76), (0.0446, 0.96), (0.0453, 0.72), (0.0461, 0.92), (0.0468, 1.06),
    (0.0475, 1.36), (0.0482, 1.0), (0.0489, 1.12), (0.0496, 1.18), (0.0503, 1.46), (0.051, 0.96),
    (0.0517, 0.82), (0.0524, 1.28), (0.0531, 1.18), (0.0536, 1.1), (0.0538, 1.48), (0.0546, 1.2),
    (0.055, 1.4), (0.0553, 1.12), (0.056, 1.24), (0.0564, 0.84), (0.0567, 1.3), (0.0574, 1.56),
    (0.0578, 1.36), (0.0581, 1.18), (0.0588, 1.64), (0.0592, 1.28), (0.0595, 1.4), (0.0602, 1.12),
    (0.0606, 1.66), (0.0609, 1.24), (0.0612, 1.48), (0.0616, 1.34), (0.0621, 1.18), (0.0624, 1.6),
    (0.0631, 1.3), (0.0635, 1.44), (0.0638, 1.72), (0.0645, 1.24), (0.0649, 1.38), (0.0652, 1.5),
    (0.0659, 1.2), (0.0663, 1.32), (0.0666, 1.58), (0.0673, 1.4), (0.0677, 1.94), (0.068, 1.28),
    (0.0687, 1.48), (0.0694, 0.96), (0.0701, 1.38), (0.0709, 1.92), (0.0716, 1.54), (0.072, 1.0),
    (0.0723, 1.32), (0.073, 1.08), (0.0737, 1.44), (0.0744, 1.54), (0.0751, 1.24), (0.0758, 1.64),
    (0.0765, 1.54), (0.0772, 1.12), (0.0779, 1.28), (0.0786, 1.58), (0.0791, 2.12), (0.0794, 1.0),
    (0.0801, 1.66), (0.0805, 1.88), (0.0815, 2.14), (0.0822, 1.12), (0.0829, 0.9), (0.0836, 1.9),
    (0.0843, 2.32), (0.0847, 1.62), (0.085, 2.24), (0.0857, 1.04), (0.0864, 1.18), (0.0871, 1.6),
    (0.0878, 0.74), (0.0886, 2.42), (0.089, 2.08), (0.0893, 0.92), (0.09, 2.3), (0.0904, 1.88),
    (0.091, 1.02), (0.0914, 0.62), (0.0918, 2.4), (0.0921, 1.68), (0.0924, 0.96), (0.0928, 1.26),
    (0.0932, 2.46), (0.0935, 1.46), (0.0938, 1.96), (0.0942, 2.12), (0.0947, 2.38), (0.0949, 1.14),
    (0.0956, 1.06), (0.0961, 1.36), (0.0964, 1.64), (0.0971, 1.98), (0.0975, 1.14), (0.098, 1.12),
    (0.0985, 2.24), (0.0992, 0.8), (0.0999, 0.98), (0.1006, 1.42), (0.1009, 1.86), (0.1013, 1.7),
    (0.1017, 2.3), (0.102, 1.04), (0.1023, 2.28), (0.1027, 2.3), (0.1032, 2.72), (0.1034, 2.42),
    (0.1037, 1.94), (0.1042, 2.14), (0.1049, 0.74), (0.1051, 1.5), (0.1056, 1.96), (0.106, 1.16),
    (0.1063, 1.42), (0.1066, 0.72), (0.107, 1.14), (0.1074, 1.04), (0.1084, 1.68), (0.1091, 2.62),
    (0.1098, 0.56), (0.1102, 1.18), (0.1108, 1.24), (0.1112, 0.9), (0.1119, 1.84), (0.1127, 1.52),
    (0.1134, 1.22), (0.1141, 0.92), (0.1148, 1.12), (0.1155, 1.56), (0.1162, 1.44), (0.1169, 0.6),
    (0.1176, 1.2), (0.1183, 0.86), (0.1187, 1.52), (0.119, 0.64), (0.1197, 1.0), (0.1204, 0.7),
    (0.1211, 0.78), (0.1219, 0.6), (0.1226, 1.32), (0.1233, 2.06), (0.124, 2.26), (0.1247, 1.8),
    (0.1254, 1.18), (0.1261, 1.46), (0.1268, 1.04), (0.1275, 1.26), (0.1282, 0.9), (0.1289, 0.84),
    (0.1297, 1.28), (0.1304, 0.72), (0.1311, 1.14), (0.1318, 0.62), (0.1325, 1.52), (0.1332, 1.4),
    (0.1339, 0.8), (0.1346, 0.88), (0.1349, 0.46), (0.1353, 0.6), (0.136, 0.92), (0.1367, 1.24),
    (0.1372, 1.92), (0.1375, 1.24), (0.1382, 0.96), (0.1389, 0.78), (0.1396, 0.56), (0.1403, 0.72),
    (0.141, 1.34), (0.1414, 0.56), (0.1417, 1.8), (0.1424, 0.96), (0.1431, 0.84), (0.1438, 0.98),
    (0.1445, 0.76), (0.1452, 1.6), (0.146, 1.24), (0.1467, 0.66), (0.1474, 0.88), (0.1481, 0.46),
    (0.1488, 1.06), (0.1502, 1.0), (0.1509, 0.68), (0.1516, 0.96), (0.1523, 0.84), (0.153, 0.94),
    (0.1545, 1.12), (0.1556, 0.98), (0.1566, 0.82), (0.1573, 1.0), (0.1632, 0.7), (0.1644, 1.26),
    (0.1672, 0.9), (0.1693, 1.24), (0.1729, 0.88), (0.1743, 0.76),
]

titles = ["RMSE=0.47", "RMSE=0.97", "RMSE=0.33", "RMSE=0.72", "RMSE=0.24", "RMSE=0.2"]
captions = [
    "(a) Dataset 1:  Time dependent.", "(b) Dataset 2:  Time dependent.",
    "(c) Dataset 1:  Space dependent.", "(d) Dataset 2:  Space dependent.",
    "(e) Dataset 1:  Space-time dependent.", "(f) Dataset 2:  Space-time dependent.",
]
series_names = ["Data", "Estimation"]
x_label = "Density"
y_label = "Flux"

# ---------------- layout helpers ----------------
W, H = 1003, 1128
BLUE, ORANGE = "#1f77b4", "#ff7f0e"
FONT = "Liberation Serif"

panels = [
    (d1_data, d1_est_time, "left", 0),
    (d2_data, d2_est_time, "right", 0),
    (d1_data, d1_est_space, "left", 1),
    (d2_data, d2_est_space, "right", 1),
    (d1_data, d1_est_spacetime, "left", 2),
    (d2_data, d2_est_spacetime, "right", 2),
]

col_px = {"left": (44.3, 479.3), "right": (573.3, 1003.0)}
row_top_px = [33.3, 413.3, 793.3]
plot_h_px = 247.4
x_ranges = {"left": [0, 0.1129], "right": [0, 0.1827]}
y_ranges = {"left": [0, 2.773], "right": [0, 2.954]}
x_dtick = {"left": 0.02, "right": 0.025}
x_fmt = {"left": ".2f", "right": ".3f"}
caption_cx = {"left": 247, "right": 770}


def px_x(v):
    return v / W


def px_y(v):
    return 1 - v / H


fig = go.Figure()
layout = dict(
    width=W, height=H, margin=dict(l=0, r=0, t=0, b=0, pad=0), autosize=False,
    paper_bgcolor="white", plot_bgcolor="white",
    font=dict(family=FONT, size=12, color="#222222"),
    annotations=[],
)

for i, (obs, est, side, row) in enumerate(panels):
    n = "" if i == 0 else str(i + 1)
    xa, ya = "x" + n, "y" + n
    lg = "legend" + n
    x0, x1 = col_px[side]
    top = row_top_px[row]
    bottom = top + plot_h_px

    for pts, color, name in ((obs, BLUE, series_names[0]), (est, ORANGE, series_names[1])):
        fig.add_trace(go.Scatter(
            x=[p[0] for p in pts], y=[p[1] for p in pts], mode="markers", name=name,
            marker=dict(color=color, size=3.3, line=dict(width=0)),
            xaxis=xa, yaxis=ya, legend=lg, showlegend=True,
        ))

    axis_common = dict(
        showline=True, mirror=True, linecolor="#a9a9a9", linewidth=1.2,
        showgrid=True, gridcolor="#e0e0e0", gridwidth=1, zeroline=False,
        ticks="", automargin=False,
        tickfont=dict(family=FONT, size=12, color="#333333"),
    )
    layout["xaxis" + n] = dict(
        axis_common, domain=[px_x(x0), px_x(x1)], range=x_ranges[side], anchor=ya,
        dtick=x_dtick[side], tick0=0, tickformat=x_fmt[side], ticklabelstandoff=-3,
    )
    layout["yaxis" + n] = dict(
        axis_common, domain=[px_y(bottom), px_y(top)], range=y_ranges[side], anchor=xa,
        dtick=0.5, tick0=0, tickformat=".1f",
    )

    # legend placement: upper left, except panel (f) which sits upper right
    if i == 5:
        leg_pos = dict(x=px_x(1001.7), xanchor="right")
    else:
        leg_pos = dict(x=px_x(x0 + 7.4), xanchor="left")
    layout[lg] = dict(
        leg_pos, y=px_y(top + 3.5), yanchor="top",
        bgcolor="rgba(255,255,255,0.85)", bordercolor="#dcdcdc", borderwidth=1,
        font=dict(family=FONT, size=13.5, color="#222222"),
        itemsizing="trace", tracegroupgap=0,
    )

    cx = (x0 + (x1 if side == "left" else 1008.0)) / 2
    layout["annotations"] += [
        dict(text=titles[i], x=px_x(cx), y=px_y(top - 19.5), xref="paper", yref="paper",
             showarrow=False, xanchor="center", yanchor="middle",
             font=dict(family=FONT, size=15.5, color="#222222")),
        dict(text=x_label, x=px_x(cx), y=px_y(bottom + 23), xref="paper", yref="paper",
             showarrow=False, xanchor="center", yanchor="middle",
             font=dict(family=FONT, size=13.5, color="#222222")),
        dict(text=y_label, x=px_x(x0 - 28), y=px_y((top + bottom) / 2), xref="paper", yref="paper",
             showarrow=False, xanchor="center", yanchor="middle", textangle=-90,
             font=dict(family=FONT, size=13.5, color="#222222")),
        dict(text=captions[i], x=px_x(caption_cx[side]), y=px_y(bottom + 73),
             xref="paper", yref="paper", showarrow=False, xanchor="center", yanchor="middle",
             font=dict(family=FONT, size=23, color="#111111")),
    ]

fig.update_layout(**layout)
fig.write_html("out.html")
